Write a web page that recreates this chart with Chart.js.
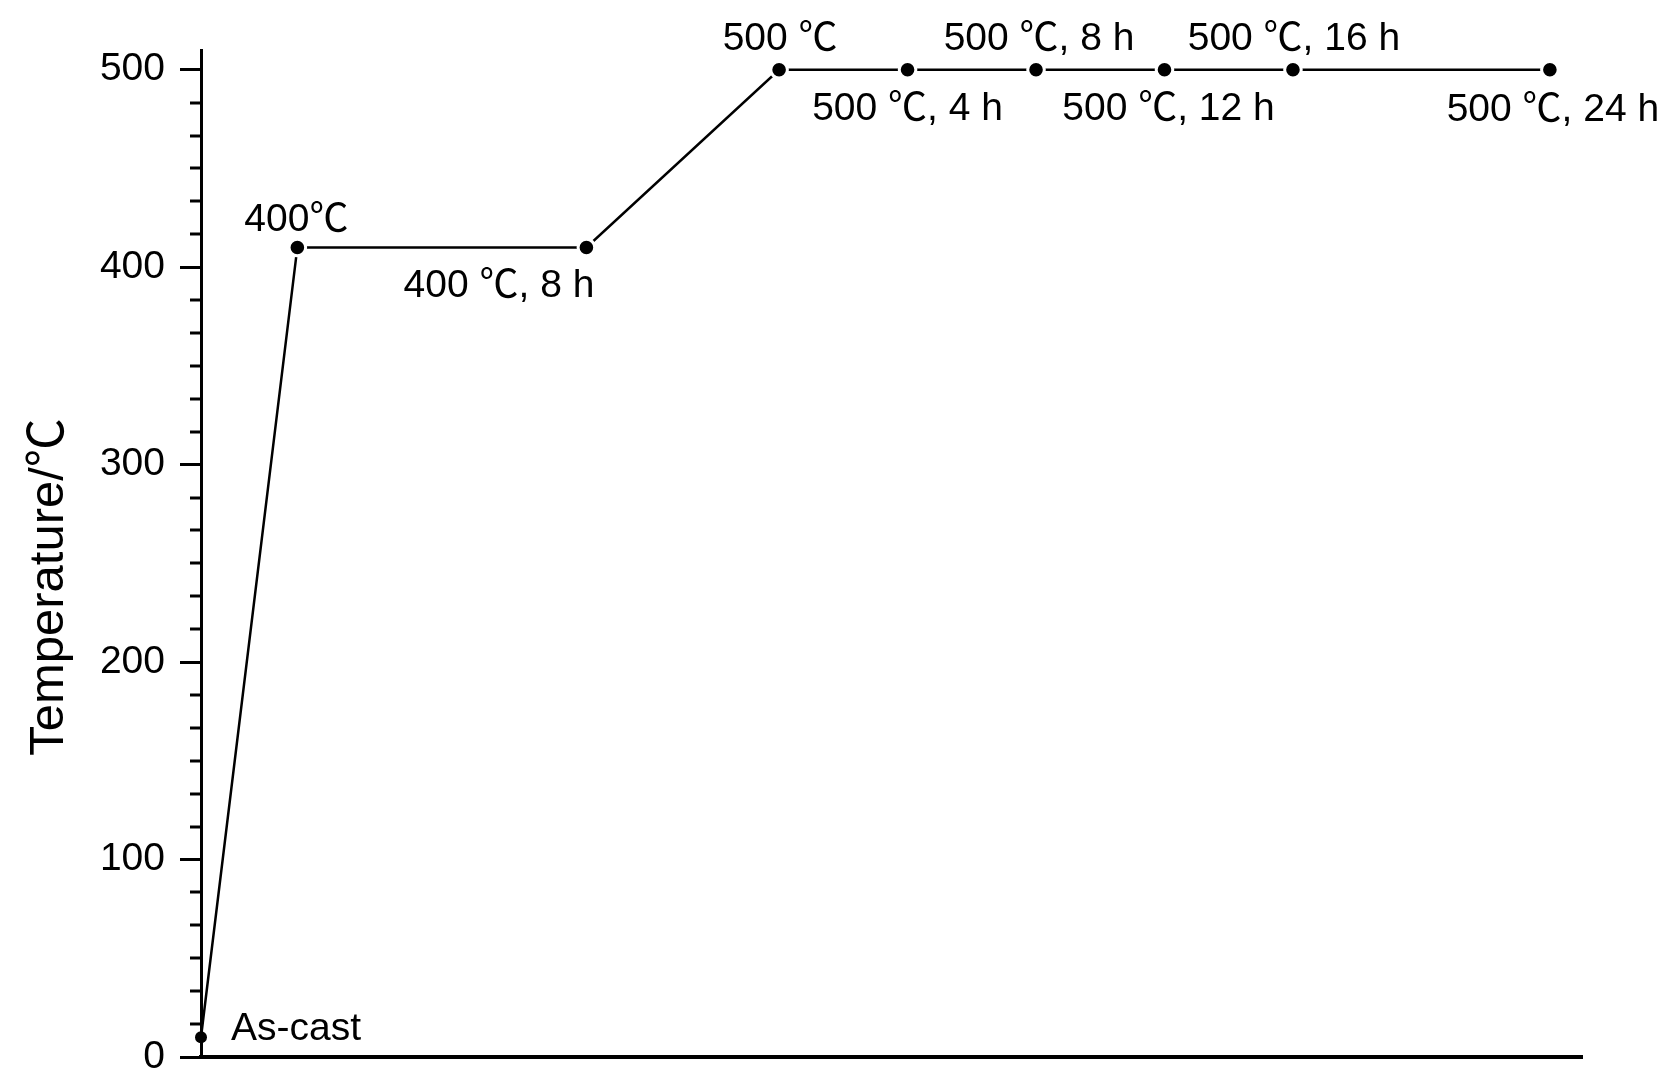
<!DOCTYPE html>
<html>
<head>
<meta charset="utf-8">
<title>Heat treatment schedule</title>
<script src="https://cdn.jsdelivr.net/npm/chart.js@4"></script>
<style>
  html, body { margin: 0; padding: 0; background: #fff; }
  #wrap { width: 1677px; height: 1091px; }
</style>
</head>
<body>
<div id="wrap"><canvas id="heatChart" width="1677" height="1091"></canvas></div>
<script>
// process steps: elapsed time (arbitrary h scale) and temperature
const timeH = [0, 3, 12, 18, 22, 26, 30, 34, 42];
const tempC = [10, 410, 410, 500, 500, 500, 500, 500, 500];
const stageLabels = [
  'As-cast', '400℃', '400 ℃, 8 h', '500 ℃', '500 ℃, 4 h',
  '500 ℃, 8 h', '500 ℃, 12 h', '500 ℃, 16 h', '500 ℃, 24 h'
];
const yTickValues = [0, 100, 200, 300, 400, 500];
const yTitle = 'Temperature/℃';

// label placement next to each point: [textAlign, dx, dy]
const labelPlace = [
  ['left', 30, 3],
  ['center', -1, -16],
  ['right', 8, 50],
  ['center', 1, -20],
  ['center', 0, 50],
  ['center', 3, -20],
  ['center', 4, 50],
  ['center', 1, -20],
  ['center', 3, 51]
];

const FONT = '"Liberation Sans", Arial, "Noto Sans CJK SC", sans-serif';

// minor ticks (6 per major step) + point labels + rotated axis title
const decorations = {
  id: 'decorations',
  afterDatasetsDraw(chart) {
    const ctx = chart.ctx;
    const y = chart.scales.y;
    const left = chart.chartArea.left;

    ctx.save();
    ctx.strokeStyle = '#000';
    ctx.lineWidth = 3;
    for (let i = 0; i < yTickValues.length - 1; i++) {
      for (let k = 1; k < 6; k++) {
        const py = Math.round(y.getPixelForValue(yTickValues[i] + k * 100 / 6));
        ctx.beginPath();
        ctx.moveTo(left - 11, py);
        ctx.lineTo(left, py);
        ctx.stroke();
      }
    }

    ctx.fillStyle = '#000';
    ctx.font = '39px ' + FONT;
    ctx.textBaseline = 'alphabetic';
    const pts = chart.getDatasetMeta(0).data;
    pts.forEach((p, i) => {
      const [align, dx, dy] = labelPlace[i];
      ctx.textAlign = align;
      ctx.fillText(stageLabels[i], p.x + dx, p.y + dy);
    });

    ctx.font = '49px ' + FONT;
    ctx.textAlign = 'center';
    ctx.translate(63, 587);
    ctx.rotate(-Math.PI / 2);
    ctx.fillText(yTitle, 0, 0);
    ctx.restore();
  }
};

new Chart(document.getElementById('heatChart'), {
  type: 'line',
  data: {
    datasets: [{
      data: timeH.map((t, i) => ({ x: t, y: tempC[i] })),
      borderColor: '#000',
      borderWidth: 2.5,
      tension: 0,
      pointRadius: timeH.map((t, i) => i === 0 ? 6 : 8.3),
      pointBackgroundColor: '#000',
      pointBorderColor: '#fff',
      pointBorderWidth: timeH.map((t, i) => i === 0 ? 0 : 3),
      clip: false
    }]
  },
  options: {
    responsive: false,
    animation: false,
    layout: { padding: { left: 100, top: 50, right: 95, bottom: 34 } },
    plugins: { legend: { display: false }, tooltip: { enabled: false } },
    scales: {
      x: {
        type: 'linear',
        min: 0,
        max: 43,
        ticks: { display: false },
        grid: { display: false, drawTicks: false },
        border: { display: true, color: '#000', width: 4 },
        afterFit(scale) { scale.height = 0; }
      },
      y: {
        type: 'linear',
        min: 0,
        max: 510,
        afterBuildTicks(scale) { scale.ticks = yTickValues.map(v => ({ value: v })); },
        afterFit(scale) {
          scale.width = 101;
          // labels have room already; keep chart area edges fixed
          scale.paddingTop = 0;
          scale.paddingBottom = 0;
        },
        ticks: {
          color: '#000',
          padding: 15,
          font: { size: 39, family: FONT }
        },
        grid: {
          display: true,
          drawOnChartArea: false,
          drawTicks: true,
          tickLength: 21,
          tickWidth: 3,
          tickColor: '#000'
        },
        border: { display: true, color: '#000', width: 3 }
      }
    }
  },
  plugins: [decorations]
});
</script>
</body>
</html>
